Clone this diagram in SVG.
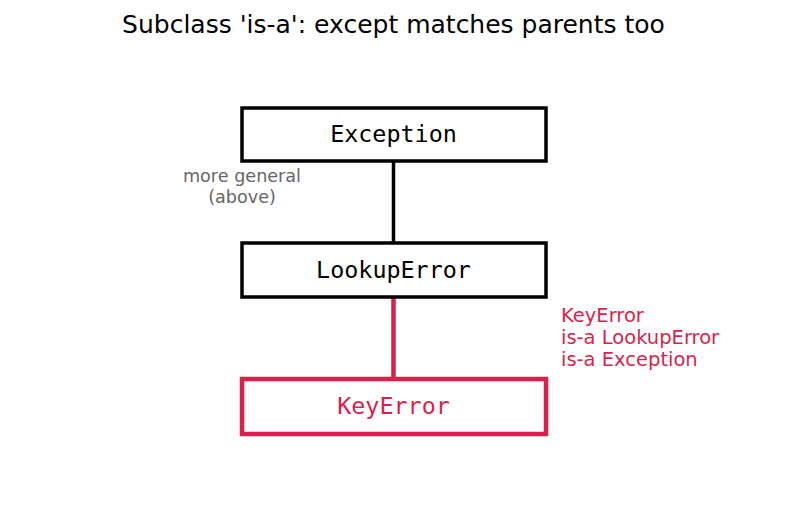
<svg xmlns="http://www.w3.org/2000/svg" width="787" height="511" viewBox="0 0 787 511">
<style>
.box{fill:#fff;stroke:#000;stroke-width:3.5}
.hl{stroke:#dc1f4b;stroke-width:4.5}
.mono{font-family:"DejaVu Sans Mono",monospace;font-size:23.4px;text-anchor:middle}
.sans{font-family:"DejaVu Sans",sans-serif}
</style>
<rect width="787" height="511" fill="#fff"/>
<text class="sans" x="393.5" y="33" font-size="25" text-anchor="middle">Subclass 'is-a': except matches parents too</text>
<g id="connectors">
<line x1="393.5" y1="161" x2="393.5" y2="243" stroke="#000" stroke-width="3.5"/>
<line x1="393.5" y1="297" x2="393.5" y2="379" stroke="#dc1f4b" stroke-width="4.5"/>
</g>
<g id="exception">
<rect class="box" x="242" y="108" width="304" height="53"/>
<text class="mono" x="393.5" y="142">Exception</text>
</g>
<g id="lookuperror">
<rect class="box" x="242" y="243" width="304" height="54"/>
<text class="mono" x="393.5" y="277.5">LookupError</text>
</g>
<g id="keyerror">
<rect class="box hl" x="242" y="379" width="304" height="55"/>
<text class="mono" x="393.5" y="413.5" fill="#dc1f4b">KeyError</text>
</g>
<g id="note-general" class="sans" font-size="17.6" fill="#666" text-anchor="middle">
<text x="242" y="182">more general</text>
<text x="242" y="203">(above)</text>
</g>
<g id="note-isa" class="sans" font-size="19.5" fill="#dc1f4b">
<text x="561" y="322">KeyError</text>
<text x="561" y="344">is-a LookupError</text>
<text x="561" y="366">is-a Exception</text>
</g>
</svg>
